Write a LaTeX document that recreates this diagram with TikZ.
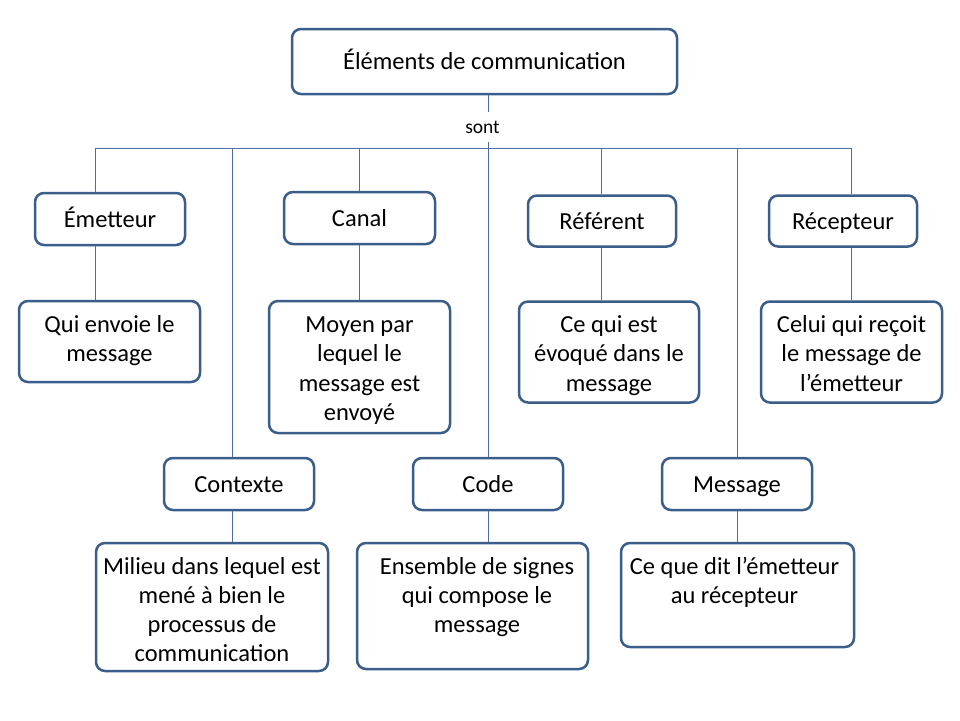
\documentclass[tikz,border=0pt]{standalone}
\usepackage{fontspec}
\setmainfont{Carlito}
\definecolor{boxblue}{RGB}{58,93,137}
\definecolor{lineblue}{RGB}{78,110,155}

\begin{document}
\begin{tikzpicture}[x=1pt,y=-1pt]
  \tikzstyle{every node}=[font=\fontsize{24.5}{29.3}\selectfont]
  \tikzstyle{box}=[draw=boxblue,line width=2.5pt,rounded corners=9pt,fill=white,align=center,inner sep=0pt]
  \tikzstyle{title}=[box,text height=20pt,text depth=4pt]
  \tikzstyle{text box}=[box,align=flush center,text height=17pt]
  \tikzstyle{link}=[draw=lineblue,line width=1pt]
  \useasboundingbox (0,0) rectangle (960,720);
  % top of the tree
  \node [title,minimum width=385,minimum height=65] (titre) at (484.5,61.5) {Éléments de communication};
  \node [inner sep=0pt,minimum height=29,font=\fontsize{19.5}{23}\selectfont] (sont) at (482.5,127) {sont};
  \coordinate (c1) at (95,148);
  \coordinate (c2) at (232,148);
  \coordinate (c3) at (359,148);
  \coordinate (c4) at (488,148);
  \coordinate (c5) at (601,148);
  \coordinate (c6) at (737,148);
  \coordinate (c7) at (851,148);
  % first row
  \node [title,minimum width=150,minimum height=52] (emet) at (110,219) {Émetteur};
  \node [title,minimum width=151,minimum height=52] (canal) at (359.5,218) {Canal};
  \node [title,minimum width=148,minimum height=51] (refer) at (602,221) {Référent};
  \node [title,minimum width=148,minimum height=51] (recep) at (843,221) {Récepteur};
  \node [text box,text width=175,text depth=35pt,minimum width=181,minimum height=81] (qui) at (109.5,341.5) {Qui envoie le\\message};
  \node [text box,text width=175,text depth=86pt,minimum width=181,minimum height=132] (moyen) at (359.5,367) {Moyen par\\lequel le\\message est\\envoyé};
  \node [text box,text width=175,text depth=56pt,minimum width=180,minimum height=101] (cequi) at (609,352) {Ce qui est\\évoqué dans le\\message};
  \node [text box,text width=175,text depth=56pt,minimum width=181,minimum height=101] (celui) at (851.5,352) {Celui qui reçoit\\le message de\\l’émetteur};
  % second row
  \node [title,minimum width=150,minimum height=52] (contexte) at (239,484) {Contexte};
  \node [title,minimum width=150,minimum height=52] (code) at (488,484) {Code};
  \node [title,minimum width=150,minimum height=52] (message) at (737,484) {Message};
  \node [text box,text width=226,text depth=83pt,minimum width=232,minimum height=128] (milieu) at (212,607) {Milieu dans lequel est\\mené à bien le\\processus de\\communication};
  \node [text box,text width=226,text depth=81pt,minimum width=231,minimum height=126] (ensemble) at (472.5,606) {\hspace*{9pt}Ensemble de signes\\\hspace*{9pt}qui compose le\\\hspace*{9pt}message};
  \node [text box,text width=226,text depth=59pt,minimum width=233,minimum height=104] (dit) at (737.5,595) {\hspace*{-6pt}Ce que dit l’émetteur\\\hspace*{-6pt}au récepteur};
  % connectors
  \draw [link] (titre.south -| c4) -- (sont.north -| c4);
  \draw [link] (sont.south -| c4) -- (c4);
  \draw [link] (c1) -- (c7);
  \draw [link] (c1) -- (c1 |- emet.north);
  \draw [link] (c1 |- emet.south) -- (c1 |- qui.north);
  \draw [link] (c2) -- (c2 |- contexte.north);
  \draw [link] (c2 |- contexte.south) -- (c2 |- milieu.north);
  \draw [link] (c3) -- (c3 |- canal.north);
  \draw [link] (c3 |- canal.south) -- (c3 |- moyen.north);
  \draw [link] (c4) -- (c4 |- code.north);
  \draw [link] (c4 |- code.south) -- (c4 |- ensemble.north);
  \draw [link] (c5) -- (c5 |- refer.north);
  \draw [link] (c5 |- refer.south) -- (c5 |- cequi.north);
  \draw [link] (c6) -- (c6 |- message.north);
  \draw [link] (c6 |- message.south) -- (c6 |- dit.north);
  \draw [link] (c7) -- (c7 |- recep.north);
  \draw [link] (c7 |- recep.south) -- (c7 |- celui.north);
\end{tikzpicture}
\end{document}
